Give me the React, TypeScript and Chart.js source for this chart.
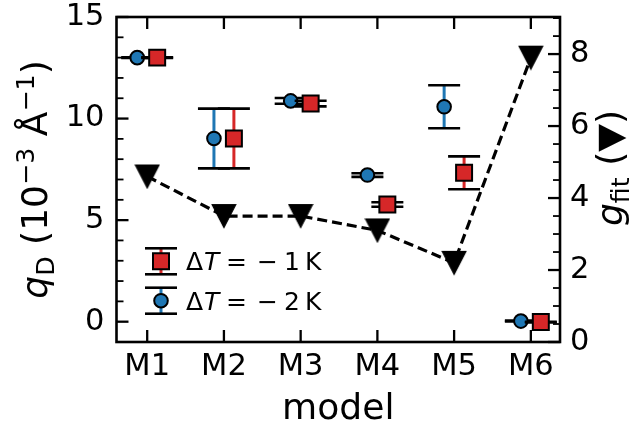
import React, { useEffect, useRef } from 'react';
import { Chart, registerables } from 'chart.js';
Chart.register(...registerables);

const models = ['M1', 'M2', 'M3', 'M4', 'M5', 'M6'];
const qD_dT1 = [13.0, 9.02, 10.74, 5.77, 7.33, -0.02];
const qD_dT1_err = [0.02, 1.47, 0.14, 0.11, 0.81, 0.02];
const qD_dT2 = [13.0, 9.02, 10.87, 7.22, 10.58, 0.03];
const qD_dT2_err = [0.02, 1.47, 0.14, 0.09, 1.06, 0.02];
const gFit = [4.6, 3.5, 3.5, 3.1, 2.2, 7.9];
const leftTicks = [0, 5, 10, 15];
const rightTicks = [0, 2, 4, 6, 8];
const legendDeltaT = [-1, -2];

const FAM = '"DejaVu Sans"';
const BLUE = '#1f77b4';
const RED = '#d62728';
const OFF = 0.13;
const F_TICK = 30.5;
const F_LAB = 36.1;
const F_LEG = 25;

Chart.defaults.font.family = FAM;

type Seg = { t: string; size: number; italic?: boolean; dy?: number };

function fontOf(s: Seg) {
  return `${s.italic ? 'italic ' : ''}${s.size}px ${FAM}`;
}

function drawSegs(ctx: CanvasRenderingContext2D, segs: Seg[], cx: number, cy: number, rot: number) {
  ctx.save();
  ctx.translate(cx, cy);
  ctx.rotate(rot);
  let total = 0;
  const ws = segs.map((s) => {
    ctx.font = fontOf(s);
    const w = ctx.measureText(s.t).width;
    total += w;
    return w;
  });
  let xx = -total / 2;
  ctx.textBaseline = 'alphabetic';
  ctx.textAlign = 'left';
  ctx.fillStyle = '#000';
  segs.forEach((s, i) => {
    ctx.font = fontOf(s);
    ctx.fillText(s.t, xx, s.dy || 0);
    xx += ws[i];
  });
  ctx.restore();
}

function drawErr(ctx: CanvasRenderingContext2D, px: number, y0: number, y1: number, color: string) {
  ctx.strokeStyle = color;
  ctx.lineWidth = 3;
  ctx.beginPath();
  ctx.moveTo(px, y0);
  ctx.lineTo(px, y1);
  ctx.stroke();
  ctx.strokeStyle = '#000';
  ctx.lineWidth = 2.6;
  for (const yy of [y0, y1]) {
    ctx.beginPath();
    ctx.moveTo(px - 16, yy);
    ctx.lineTo(px + 16, yy);
    ctx.stroke();
  }
}

const errorBarPlugin = {
  id: 'errbars',
  beforeDatasetDraw(chart: any, args: any) {
    const ds = chart.data.datasets[args.index];
    if (!ds.errKey) return;
    const { ctx, scales } = chart;
    const x = scales.x;
    const y = scales.y;
    const vals = ds.errKey === 'dT1' ? qD_dT1 : qD_dT2;
    const errs = ds.errKey === 'dT1' ? qD_dT1_err : qD_dT2_err;
    const off = ds.errKey === 'dT1' ? OFF : -OFF;
    const color = ds.errKey === 'dT1' ? RED : BLUE;
    ctx.save();
    vals.forEach((v, i) => {
      const px = x.getPixelForValue(i + off);
      drawErr(ctx, px, y.getPixelForValue(v - errs[i]), y.getPixelForValue(v + errs[i]), color);
    });
    ctx.restore();
  },
};

const framePlugin = {
  id: 'frame',
  afterDraw(chart: any) {
    const { ctx, chartArea: a, scales } = chart;
    const { x, y, y2 } = scales;
    ctx.save();
    ctx.strokeStyle = '#000';
    const tick = (x0: number, y0: number, x1: number, y1: number, w: number) => {
      ctx.lineWidth = w;
      ctx.beginPath();
      ctx.moveTo(x0, y0);
      ctx.lineTo(x1, y1);
      ctx.stroke();
    };
    const MAJ = 12;
    const MIN = 7;
    models.forEach((_, i) => {
      const px = x.getPixelForValue(i);
      tick(px, a.bottom, px, a.bottom - MAJ, 2.3);
      tick(px, a.top, px, a.top + MAJ, 2.3);
    });
    for (let v = -1; v <= 15; v++) {
      const py = y.getPixelForValue(v);
      const major = leftTicks.includes(v);
      tick(a.left, py, a.left + (major ? MAJ : MIN), py, major ? 2.3 : 1.8);
    }
    for (let v = 0; v <= 9; v += 0.5) {
      const py = y2.getPixelForValue(v);
      if (py < a.top) continue;
      const major = rightTicks.includes(v);
      tick(a.right, py, a.right - (major ? MAJ : MIN), py, major ? 2.3 : 1.8);
    }
    ctx.lineWidth = 2.6;
    ctx.strokeRect(a.left, a.top, a.right - a.left, a.bottom - a.top);

    const S = F_LAB * 0.7;
    drawSegs(ctx, [{ t: 'model', size: F_LAB }], (a.left + a.right) / 2, 419, 0);
    drawSegs(
      ctx,
      [
        { t: 'q', size: F_LAB, italic: true },
        { t: 'D', size: S, dy: 0.2 * F_LAB },
        { t: ' (10', size: F_LAB },
        { t: '−3', size: S, dy: -0.36 * F_LAB },
        { t: ' Å', size: F_LAB },
        { t: '−1', size: S, dy: -0.36 * F_LAB },
        { t: ')', size: F_LAB },
      ],
      47,
      (a.top + a.bottom) / 2,
      -Math.PI / 2
    );
    drawSegs(
      ctx,
      [
        { t: 'g', size: F_LAB, italic: true },
        { t: 'fit', size: S, dy: 0.2 * F_LAB },
        { t: ' (▼)', size: F_LAB },
      ],
      622,
      168,
      -Math.PI / 2
    );

    const lx = a.left + 44.5;
    const rows = [a.top + 244.3, a.top + 283.7];
    legendDeltaT.forEach((dt, k) => {
      const cy = rows[k];
      const isRed = k === 0;
      drawErr(ctx, lx, cy - 13, cy + 13, isRed ? RED : BLUE);
      ctx.lineWidth = 2;
      ctx.strokeStyle = '#000';
      if (isRed) {
        ctx.fillStyle = RED;
        ctx.beginPath();
        ctx.rect(lx - 8, cy - 8, 16, 16);
        ctx.fill();
        ctx.stroke();
      } else {
        ctx.fillStyle = BLUE;
        ctx.beginPath();
        ctx.arc(lx, cy, 6.8, 0, Math.PI * 2);
        ctx.fill();
        ctx.stroke();
      }
      const by = cy + 9;
      const tx = a.left + 69.5;
      ctx.fillStyle = '#000';
      ctx.textBaseline = 'alphabetic';
      ctx.textAlign = 'left';
      ctx.font = `${F_LEG}px ${FAM}`;
      ctx.fillText('Δ', tx, by);
      ctx.font = `italic ${F_LEG}px ${FAM}`;
      ctx.fillText('T', tx + 18, by);
      ctx.font = `${F_LEG}px ${FAM}`;
      ctx.fillText('=', tx + 40, by);
      ctx.fillText('−', tx + 71, by);
      ctx.fillText(String(Math.abs(dt)), tx + 98, by);
      ctx.fillText('K', tx + 119, by);
    });
    ctx.restore();
  },
};

const zeroPad = (s: any) => {
  s.paddingTop = 0;
  s.paddingBottom = 0;
  s.paddingLeft = 0;
  s.paddingRight = 0;
};

export default function App() {
  const ref = useRef<HTMLCanvasElement>(null);
  useEffect(() => {
    if (!ref.current) return;
    const tri = document.createElement('canvas');
    tri.width = 26;
    tri.height = 26;
    const tc = tri.getContext('2d')!;
    tc.fillStyle = '#000';
    tc.strokeStyle = '#000';
    tc.lineWidth = 1.2;
    tc.beginPath();
    tc.moveTo(1.2, 1.5);
    tc.lineTo(24.8, 1.5);
    tc.lineTo(13, 24.5);
    tc.closePath();
    tc.fill();
    tc.stroke();

    const tickFont = { family: FAM, size: F_TICK, lineHeight: 1.17 };
    const chart = new Chart(ref.current, {
      type: 'scatter',
      data: {
        datasets: [
          {
            label: 'gfit',
            type: 'line',
            showLine: true,
            data: gFit.map((g, i) => ({ x: i, y: g })),
            xAxisID: 'x',
            yAxisID: 'y2',
            borderColor: '#000',
            borderWidth: 3.2,
            borderDash: [10, 5],
            tension: 0,
            fill: false,
            pointStyle: tri,
            pointRadius: 12,
            pointBackgroundColor: '#000',
          } as any,
          {
            label: 'dT1',
            errKey: 'dT1',
            data: qD_dT1.map((v, i) => ({ x: i + OFF, y: v })),
            pointStyle: 'rect',
            pointRadius: 11.3,
            backgroundColor: RED,
            borderColor: '#000',
            borderWidth: 2,
          } as any,
          {
            label: 'dT2',
            errKey: 'dT2',
            data: qD_dT2.map((v, i) => ({ x: i - OFF, y: v })),
            pointStyle: 'circle',
            pointRadius: 6.8,
            backgroundColor: BLUE,
            borderColor: '#000',
            borderWidth: 2,
          } as any,
        ],
      },
      options: {
        responsive: false,
        animation: false,
        devicePixelRatio: 1,
        events: [],
        layout: { padding: { top: 17, left: 0, right: 0, bottom: 0 } },
        plugins: { legend: { display: false }, tooltip: { enabled: false } },
        scales: {
          x: {
            type: 'linear',
            position: 'bottom',
            min: -0.4,
            max: 5.38,
            grid: { display: false, drawTicks: false },
            border: { display: false },
            afterBuildTicks: (s: any) => {
              s.ticks = models.map((_, i) => ({ value: i }));
            },
            ticks: {
              callback: (v: any) => models[v] ?? '',
              font: tickFont,
              color: '#000',
              padding: 7,
              autoSkip: false,
              maxRotation: 0,
            },
            afterFit: (s: any) => {
              s.height = 85;
              zeroPad(s);
            },
          },
          y: {
            type: 'linear',
            position: 'left',
            min: -1,
            max: 15,
            grid: { display: false, drawTicks: false },
            border: { display: false },
            afterBuildTicks: (s: any) => {
              s.ticks = leftTicks.map((v) => ({ value: v }));
            },
            ticks: { callback: (v: any) => String(v), font: tickFont, color: '#000', padding: 12 },
            afterFit: (s: any) => {
              s.width = 116.5;
              zeroPad(s);
            },
          },
          y2: {
            type: 'linear',
            position: 'right',
            min: 0,
            max: 9.03,
            grid: { display: false, drawTicks: false },
            border: { display: false },
            afterBuildTicks: (s: any) => {
              s.ticks = rightTicks.map((v) => ({ value: v }));
            },
            ticks: { callback: (v: any) => String(v), font: tickFont, color: '#000', padding: 10 },
            afterFit: (s: any) => {
              s.width = 76;
              zeroPad(s);
            },
          },
        },
      } as any,
      plugins: [errorBarPlugin, framePlugin],
    });
    return () => chart.destroy();
  }, []);
  return (
    <div style={{ position: 'fixed', left: 0, top: 0, width: 636, height: 427, background: '#fff' }}>
      <canvas ref={ref} width={636} height={427} style={{ width: 636, height: 427 }} />
    </div>
  );
}
